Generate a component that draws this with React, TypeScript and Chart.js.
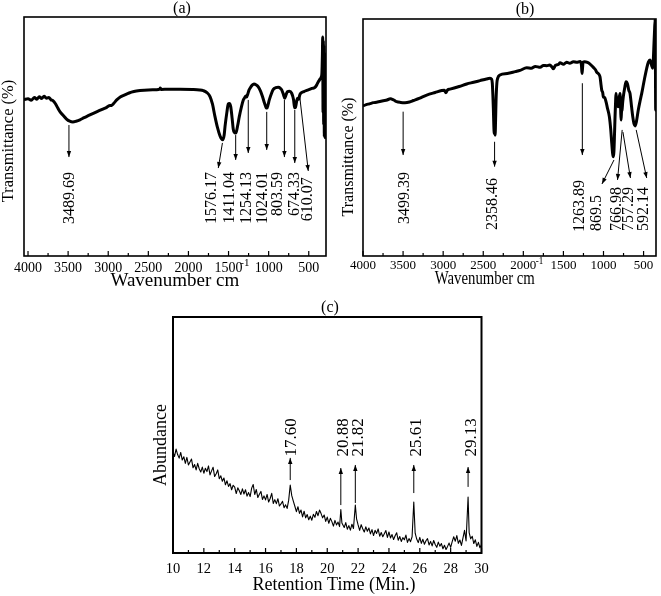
import React, { useEffect, useRef } from "react";
import { Chart, registerables } from "chart.js";

Chart.register(...registerables);

const FONT = '"Liberation Serif", "Times New Roman", serif';

// ---------------- Panel (a): FTIR spectrum ----------------
const spectrumA: [number, number][] = [
  [4050, 65.4], [4000, 65.8], [3960, 65.2], [3920, 66.3], [3890, 65.6], [3860, 66.6], [3830, 65.9],
  [3800, 66.8], [3770, 66.0], [3740, 66.3], [3715, 65.4], [3690, 65.0], [3660, 63.8], [3630, 62.0],
  [3600, 60.3], [3560, 58.8], [3520, 57.3], [3480, 56.4], [3440, 56.1], [3400, 56.4], [3352, 57.0],
  [3300, 57.9], [3250, 58.7], [3186, 59.7], [3120, 60.7], [3060, 61.6], [3019, 62.2], [2990, 62.9],
  [2960, 63.0], [2930, 63.9], [2894, 65.3], [2850, 66.5], [2800, 67.3], [2740, 68.2], [2680, 68.8],
  [2604, 69.2], [2500, 69.5], [2400, 69.6], [2360, 69.8], [2350, 70.3], [2340, 69.7], [2250, 69.8],
  [2105, 69.8], [1950, 69.7], [1860, 69.5], [1815, 69.2], [1770, 68.4], [1731, 66.7], [1700, 63.5],
  [1669, 58.3], [1640, 54.0], [1606, 50.2], [1585, 48.9], [1573, 48.6], [1555, 50.5], [1544, 54.1],
  [1520, 60.3], [1503, 63.6], [1490, 63.8], [1473, 62.5], [1455, 57.5], [1441, 53.0], [1420, 51.5],
  [1407, 51.6], [1385, 54.8], [1366, 58.3], [1340, 62.3], [1316, 65.3], [1300, 66.2], [1285, 66.9],
  [1274, 66.5], [1262, 67.6], [1245, 69.4], [1232, 70.2], [1205, 71.5], [1183, 72.0], [1155, 71.6],
  [1129, 70.8], [1100, 68.9], [1074, 66.4], [1050, 63.8], [1030, 62.0], [1020, 61.9], [1008, 63.2],
  [992, 65.3], [965, 68.0], [942, 69.7], [910, 70.4], [880, 70.6], [855, 70.2], [837, 69.5],
  [815, 67.5], [800, 66.0], [790, 66.8], [767, 68.7], [740, 68.9], [713, 68.1], [690, 65.5],
  [676, 62.0], [665, 62.3], [650, 64.9], [640, 66.0], [625, 65.6], [612, 67.4], [600, 68.1],
  [560, 68.8], [506, 69.5], [460, 70.1], [422, 70.6], [400, 71.6], [381, 72.9], [360, 74.0],
  [345, 74.8], [336, 76.5], [330, 84.0], [326, 91.6], [322, 60.0], [318, 90.0], [314, 55.0],
  [310, 88.0], [306, 50.0], [302, 85.0], [298, 49.5], [294, 72.0], [290, 50.0], [285, 52.0],
];
const ticksA = [4000, 3500, 3000, 2500, 2000, 1500, 1000, 500];
const tickLabelsA = ["4000", "3500", "3000", "2500", "2000", "1500", "1000", "500"];
const peakLabelsA = ["3489.69", "1576.17", "1411.04", "1254.13", "1024.01", "803.59", "674.33", "610.07"];
const peaksA = [3489.69, 1576.17, 1411.04, 1254.13, 1024.01, 803.59, 674.33, 610.07];

// ---------------- Panel (b): FTIR spectrum ----------------
const spectrumB: [number, number][] = [
  [4000, 63.3], [3960, 63.9], [3920, 64.2], [3872, 64.7], [3830, 64.9], [3790, 65.2], [3747, 65.5],
  [3700, 65.8], [3660, 66.4], [3642, 66.2], [3610, 65.7], [3580, 65.1], [3530, 64.8], [3476, 64.7],
  [3420, 65.0], [3372, 65.6], [3300, 66.5], [3205, 67.9], [3100, 69.0], [3018, 69.8], [2985, 69.9],
  [2965, 68.9], [2945, 70.1], [2915, 70.4], [2800, 71.5], [2706, 72.6], [2620, 73.3], [2540, 74.0],
  [2460, 74.7], [2416, 75.0], [2395, 74.6], [2387, 72.9], [2380, 68.0], [2374, 62.4], [2368, 55.0],
  [2362, 51.6], [2358, 58.0], [2352, 51.0], [2346, 57.5], [2340, 66.0], [2330, 73.0], [2320, 75.0],
  [2291, 76.4], [2200, 77.0], [2100, 77.8], [2041, 78.3], [1958, 79.4], [1900, 79.2], [1850, 80.0],
  [1790, 79.6], [1750, 80.4], [1708, 80.3], [1670, 80.6], [1640, 79.6], [1626, 79.0], [1600, 80.4],
  [1560, 80.9], [1542, 81.5], [1500, 80.9], [1460, 81.8], [1420, 81.3], [1376, 82.0], [1330, 81.7],
  [1293, 82.1], [1275, 80.5], [1268, 77.0], [1262, 79.0], [1255, 81.8], [1235, 82.0], [1200, 81.7],
  [1168, 81.0], [1130, 79.7], [1100, 78.6], [1085, 77.6], [1060, 76.8], [1043, 75.5], [1030, 72.0],
  [1022, 70.0], [1010, 69.0], [1002, 67.2], [985, 66.8], [969, 65.1], [950, 62.3], [927, 58.8],
  [910, 53.5], [897, 47.6], [885, 43.0], [877, 41.9], [870, 44.0], [862, 52.0], [856, 58.8],
  [848, 66.0], [844, 68.6], [835, 65.5], [825, 64.0], [815, 63.0], [805, 66.5], [794, 68.6],
  [786, 62.0], [781, 57.4], [775, 61.0], [769, 61.6], [760, 65.0], [753, 67.2], [735, 71.0],
  [719, 73.5], [700, 72.5], [685, 70.0], [669, 68.6], [650, 63.0], [635, 58.8], [620, 55.8],
  [607, 54.9], [590, 56.6], [566, 61.6], [545, 65.2], [523, 68.6], [490, 74.5], [461, 79.2],
  [440, 81.8], [420, 82.7], [400, 80.5], [386, 79.2], [378, 83.0], [370, 89.7], [362, 96.0],
  [356, 99.8], [352, 80.0], [349, 61.6], [347, 95.0], [345, 62.0],
];
const ticksB = [4000, 3500, 3000, 2500, 2000, 1500, 1000, 500];
const tickLabelsB = ["4000", "3500", "3000", "2500", "2000", "1500", "1000", "500"];
const peakLabelsB = ["3499.39", "2358.46", "1263.89", "869.5", "766.98", "757.29", "592.14"];
const peaksB = [3499.39, 2358.46, 1263.89, 869.5, 766.98, 757.29, 592.14];

// ---------------- Panel (c): GC chromatogram ----------------
const chromatogramC: [number, number][] = [
  [10.0, 42.8], [10.1, 40.9], [10.2, 44.0], [10.3, 41.7], [10.4, 40.2], [10.5, 42.6], [10.6, 39.4], [10.7, 40.8], [10.8, 38.0], [10.9, 40.5],
  [11.0, 37.3], [11.1, 38.6], [11.2, 39.8], [11.3, 36.1], [11.4, 37.5], [11.5, 35.2], [11.6, 38.0], [11.7, 35.7], [11.8, 34.3], [11.9, 36.4],
  [12.0, 33.8], [12.1, 35.9], [12.2, 34.5], [12.3, 36.9], [12.4, 33.1], [12.5, 34.8], [12.6, 36.3], [12.7, 32.4], [12.8, 33.6], [12.9, 35.2],
  [13.0, 31.5], [13.1, 32.7], [13.2, 30.4], [13.3, 31.8], [13.4, 28.9], [13.5, 30.6], [13.6, 28.2], [13.7, 29.4], [13.8, 26.8], [13.9, 28.7],
  [14.0, 27.9], [14.1, 25.2], [14.2, 27.6], [14.3, 26.4], [14.4, 24.8], [14.5, 27.2], [14.6, 25.0], [14.7, 26.8], [14.8, 24.1], [14.9, 25.6],
  [15.0, 23.9], [15.1, 27.5], [15.2, 29.0], [15.3, 24.8], [15.4, 26.9], [15.5, 23.5], [15.6, 24.9], [15.7, 26.1], [15.8, 22.7], [15.9, 24.2],
  [16.0, 22.5], [16.1, 24.8], [16.2, 21.6], [16.3, 23.1], [16.4, 25.3], [16.5, 21.0], [16.6, 22.6], [16.7, 20.9], [16.8, 23.0], [16.9, 19.9],
  [17.0, 20.8], [17.1, 21.9], [17.2, 19.2], [17.3, 20.4], [17.4, 18.9], [17.5, 22.4], [17.6, 28.8], [17.7, 24.3], [17.8, 22.0], [17.9, 19.8],
  [18.0, 17.5], [18.1, 19.6], [18.2, 16.8], [18.3, 18.2], [18.4, 15.3], [18.5, 17.7], [18.6, 14.9], [18.7, 16.3], [18.8, 14.1], [18.9, 15.6],
  [19.0, 13.9], [19.1, 16.4], [19.2, 15.1], [19.3, 17.6], [19.4, 15.8], [19.5, 18.2], [19.6, 16.7], [19.7, 14.9], [19.8, 16.1], [19.9, 13.4],
  [20.0, 15.2], [20.1, 12.6], [20.2, 14.7], [20.3, 13.3], [20.4, 11.4], [20.5, 13.8], [20.6, 11.9], [20.7, 13.1], [20.8, 11.2], [20.88, 18.4],
  [20.95, 12.7], [21.1, 10.8], [21.2, 12.9], [21.3, 10.1], [21.4, 11.6], [21.5, 9.7], [21.6, 12.2], [21.7, 10.4], [21.82, 20.3], [21.9, 14.5],
  [22.0, 11.9], [22.1, 9.6], [22.2, 12.0], [22.3, 10.3], [22.4, 8.9], [22.5, 11.1], [22.6, 9.2], [22.7, 10.6], [22.8, 8.1], [22.9, 9.9],
  [23.0, 7.4], [23.1, 9.6], [23.2, 8.3], [23.3, 10.2], [23.4, 7.1], [23.5, 8.7], [23.6, 6.9], [23.7, 8.2], [23.8, 9.5], [23.9, 6.6],
  [24.0, 8.9], [24.1, 6.4], [24.2, 7.8], [24.3, 5.7], [24.4, 7.3], [24.5, 8.6], [24.6, 5.4], [24.7, 7.0], [24.8, 4.9], [24.9, 6.5],
  [25.0, 5.6], [25.1, 7.6], [25.2, 4.5], [25.3, 6.1], [25.4, 4.8], [25.5, 6.9], [25.61, 21.6], [25.7, 8.4], [25.8, 5.9], [25.9, 4.4],
  [26.0, 6.6], [26.1, 4.1], [26.2, 5.8], [26.3, 3.7], [26.4, 5.2], [26.5, 6.1], [26.6, 3.4], [26.7, 4.9], [26.8, 3.0], [26.9, 5.3],
  [27.0, 3.6], [27.1, 2.4], [27.2, 4.6], [27.3, 2.9], [27.4, 4.0], [27.5, 1.8], [27.6, 3.3], [27.7, 1.5], [27.8, 2.8], [27.9, 4.2],
  [28.0, 2.4], [28.1, 4.8], [28.2, 6.9], [28.3, 5.0], [28.4, 7.4], [28.5, 4.1], [28.6, 5.5], [28.7, 3.2], [28.8, 6.4], [28.9, 9.6],
  [29.0, 5.1], [29.13, 23.7], [29.2, 8.6], [29.3, 6.0], [29.4, 7.1], [29.5, 4.0], [29.6, 5.6], [29.7, 2.8], [29.8, 4.5], [29.9, 2.2],
  [30.0, 3.6],
];
const ticksC = [10, 12, 14, 16, 18, 20, 22, 24, 26, 28, 30];
const tickLabelsC = ["10", "12", "14", "16", "18", "20", "22", "24", "26", "28", "30"];
const peakLabelsC = ["17.60", "20.88", "21.82", "25.61", "29.13"];
const peaksC = [17.6, 20.88, 21.82, 25.61, 29.13];

// ---------------- layout (callout geometry in data units) ----------------
type Geom = { y0: number; x1: number; y1: number; lx: number; ly: number };

const calloutGeomA: Geom[] = [
  { y0: 54.8, x1: 3489.69, y1: 41.4, lx: 3485, ly: 35.1 },
  { y0: 47.3, x1: 1628, y1: 36.8, lx: 1710, ly: 35.1 },
  { y0: 50.6, x1: 1411.04, y1: 40.2, lx: 1482, ly: 35.1 },
  { y0: 65.3, x1: 1254.13, y1: 43.1, lx: 1274, ly: 35.1 },
  { y0: 60.3, x1: 1024.01, y1: 44.4, lx: 1067, ly: 35.1 },
  { y0: 65.3, x1: 803.59, y1: 41.4, lx: 880, ly: 35.1 },
  { y0: 61.1, x1: 674.33, y1: 38.9, lx: 671, ly: 35.1 },
  { y0: 66.0, x1: 506, y1: 35.6, lx: 506, ly: 33.0 },
];
const calloutGeomB: Geom[] = [
  { y0: 60.9, x1: 3499.39, y1: 42.6, lx: 3476, ly: 35.4 },
  { y0: 48.2, x1: 2358.46, y1: 37.7, lx: 2376, ly: 32.9 },
  { y0: 72.9, x1: 1263.89, y1: 42.6, lx: 1293, ly: 32.1 },
  { y0: 40.5, x1: 1019, y1: 30.4, lx: 1085, ly: 25.7 },
  { y0: 53.2, x1: 825, y1: 32.1, lx: 828, ly: 29.1 },
  { y0: 52.3, x1: 664, y1: 32.9, lx: 682, ly: 29.1 },
  { y0: 53.2, x1: 461, y1: 32.9, lx: 503, ly: 29.1 },
];
const calloutGeomC: Geom[] = [
  { y0: 30.9, x1: 17.6, y1: 40.3, lx: 17.71, ly: 40.9 },
  { y0: 20.3, x1: 20.88, y1: 36.0, lx: 21.06, ly: 40.9 },
  { y0: 21.2, x1: 21.82, y1: 37.3, lx: 22.03, ly: 40.9 },
  { y0: 25.4, x1: 25.61, y1: 37.3, lx: 25.81, ly: 40.9 },
  { y0: 28.0, x1: 29.13, y1: 36.4, lx: 29.38, ly: 40.9 },
];

interface PanelSpec {
  left: number; top: number; width: number; height: number;
  area: { l: number; r: number; t: number; b: number }; // page coords
  xMin: number; xMax: number; reverse: boolean;
  ticks: number[]; tickLabels: string[];
  tickSize: number; tickPad: number;
  data: [number, number][];
  lineWidth: number; smooth: boolean;
  borderW: number;
  title: string; titlePos: [number, number];
  xTitle: string; xSup: string; xTitlePos: [number, number]; xTitleSize: number; xTitleScaleX: number;
  yTitle: string; yTitlePos: [number, number]; yTitleSize: number;
  labels: string[]; peaks: number[]; geom: Geom[];
  labelSize: number; labelAlign: CanvasTextAlign;
}

function arrowHead(ctx: CanvasRenderingContext2D, x0: number, y0: number, x1: number, y1: number) {
  const ang = Math.atan2(y1 - y0, x1 - x0);
  const len = 6, half = 2.2;
  ctx.beginPath();
  ctx.moveTo(x1, y1);
  ctx.lineTo(x1 - len * Math.cos(ang) + half * Math.sin(ang), y1 - len * Math.sin(ang) - half * Math.cos(ang));
  ctx.lineTo(x1 - len * Math.cos(ang) - half * Math.sin(ang), y1 - len * Math.sin(ang) + half * Math.cos(ang));
  ctx.closePath();
  ctx.fill();
}

function decorPlugin(spec: PanelSpec) {
  return {
    id: "decor",
    afterDraw(chart: any) {
      const ctx: CanvasRenderingContext2D = chart.ctx;
      const { left, right, top, bottom } = chart.chartArea;
      const xs = chart.scales.x, ys = chart.scales.y;
      const ox = spec.left, oy = spec.top;
      ctx.save();
      ctx.strokeStyle = "#000";
      ctx.fillStyle = "#000";
      // frame
      ctx.lineWidth = spec.borderW;
      ctx.strokeRect(left, top, right - left, bottom - top);
      // inward ticks (major + minor midpoints)
      ctx.lineWidth = 1.2;
      const t = spec.ticks;
      const minors: number[] = [];
      for (let i = 0; i < t.length - 1; i++) minors.push((t[i] + t[i + 1]) / 2);
      ctx.beginPath();
      t.forEach((v) => {
        const p = xs.getPixelForValue(v);
        ctx.moveTo(p, bottom); ctx.lineTo(p, bottom - 5);
      });
      minors.forEach((v) => {
        const p = xs.getPixelForValue(v);
        ctx.moveTo(p, bottom); ctx.lineTo(p, bottom - 3);
      });
      ctx.stroke();
      // callouts
      ctx.lineWidth = 1;
      spec.geom.forEach((g, i) => {
        const x0 = xs.getPixelForValue(spec.peaks[i]);
        const y0 = ys.getPixelForValue(g.y0);
        const x1 = xs.getPixelForValue(g.x1);
        const y1 = ys.getPixelForValue(g.y1);
        ctx.beginPath();
        ctx.moveTo(x0, y0);
        ctx.lineTo(x1, y1);
        ctx.stroke();
        arrowHead(ctx, x0, y0, x1, y1);
        const lx = xs.getPixelForValue(g.lx);
        const ly = ys.getPixelForValue(g.ly);
        ctx.save();
        ctx.translate(lx, ly);
        ctx.rotate(-Math.PI / 2);
        ctx.font = `${spec.labelSize}px ${FONT}`;
        ctx.textAlign = spec.labelAlign;
        ctx.textBaseline = "middle";
        ctx.fillText(spec.labels[i], 0, 0);
        ctx.restore();
      });
      // panel title
      ctx.font = `16px ${FONT}`;
      ctx.textAlign = "center";
      ctx.textBaseline = "middle";
      ctx.fillText(spec.title, spec.titlePos[0] - ox, spec.titlePos[1] - oy);
      // x title with superscript (optionally compressed horizontally)
      ctx.save();
      ctx.translate(spec.xTitlePos[0] - ox, spec.xTitlePos[1] - oy);
      ctx.scale(spec.xTitleScaleX, 1);
      ctx.font = `${spec.xTitleSize}px ${FONT}`;
      const w1 = ctx.measureText(spec.xTitle).width;
      ctx.font = `11px ${FONT}`;
      const w2 = spec.xSup ? ctx.measureText(spec.xSup).width + 1 : 0;
      const sx = -(w1 + w2) / 2;
      ctx.textAlign = "left";
      ctx.textBaseline = "alphabetic";
      ctx.font = `${spec.xTitleSize}px ${FONT}`;
      ctx.fillText(spec.xTitle, sx, 0);
      if (spec.xSup) {
        ctx.font = `11px ${FONT}`;
        ctx.fillText(spec.xSup, sx + w1 + 1, -20);
      }
      ctx.restore();
      // y title
      ctx.save();
      ctx.translate(spec.yTitlePos[0] - ox, spec.yTitlePos[1] - oy);
      ctx.rotate(-Math.PI / 2);
      ctx.font = `${spec.yTitleSize}px ${FONT}`;
      ctx.textAlign = "center";
      ctx.textBaseline = "middle";
      ctx.fillText(spec.yTitle, 0, 0);
      ctx.restore();
      ctx.restore();
    },
  };
}

function Panel({ spec }: { spec: PanelSpec }) {
  const ref = useRef<HTMLCanvasElement>(null);
  useEffect(() => {
    const canvas = ref.current;
    if (!canvas) return;
    const a = spec.area;
    const chart = new Chart(canvas, {
      type: "line",
      data: {
        datasets: [
          {
            data: spec.data.map(([x, y]) => ({ x, y })),
            borderColor: "#000",
            borderWidth: spec.lineWidth,
            pointRadius: 0,
            fill: false,
            cubicInterpolationMode: spec.smooth ? "monotone" : "default",
            tension: 0,
            borderJoinStyle: "round",
          } as any,
        ],
      },
      options: {
        responsive: false,
        animation: false,
        devicePixelRatio: 1,
        layout: {
          autoPadding: false,
          padding: { left: a.l - spec.left, top: a.t - spec.top, right: spec.left + spec.width - a.r, bottom: 0 },
        } as any,
        plugins: { legend: { display: false }, tooltip: { enabled: false }, title: { display: false } },
        scales: {
          x: {
            type: "linear",
            min: spec.xMin,
            max: spec.xMax,
            reverse: spec.reverse,
            grid: { display: false, drawTicks: false },
            border: { display: false },
            ticks: {
              color: "#000",
              font: { family: FONT, size: spec.tickSize },
              padding: spec.tickPad,
              maxRotation: 0,
              autoSkip: false,
              callback: (v: any) => {
                const idx = spec.ticks.indexOf(Number(v));
                return idx >= 0 ? spec.tickLabels[idx] : "";
              },
            },
            afterBuildTicks: (s: any) => {
              s.ticks = spec.ticks.map((v) => ({ value: v }));
            },
            afterFit: (s: any) => {
              s.height = spec.top + spec.height - a.b;
            },
          },
          y: { display: false, min: 0, max: 100 },
        },
      } as any,
      plugins: [decorPlugin(spec)],
    });
    return () => chart.destroy();
  }, [spec]);
  return (
    <canvas
      ref={ref}
      width={spec.width}
      height={spec.height}
      style={{ position: "absolute", left: spec.left, top: spec.top, width: spec.width, height: spec.height }}
    />
  );
}

const specA: PanelSpec = {
  left: 0, top: 0, width: 331, height: 296,
  area: { l: 24, r: 326, t: 17, b: 256 },
  xMin: 285, xMax: 4050, reverse: true,
  ticks: ticksA, tickLabels: tickLabelsA, tickSize: 14, tickPad: 4,
  data: spectrumA, lineWidth: 3, smooth: true, borderW: 1.6,
  title: "(a)", titlePos: [182, 9],
  xTitle: "Wavenumber cm", xSup: "-1", xTitlePos: [180, 286], xTitleSize: 19, xTitleScaleX: 1,
  yTitle: "Transmittance (%)", yTitlePos: [9, 141], yTitleSize: 16.5,
  labels: peakLabelsA, peaks: peaksA, geom: calloutGeomA, labelSize: 16, labelAlign: "right",
};

const specB: PanelSpec = {
  left: 331, top: 0, width: 330, height: 296,
  area: { l: 363, r: 656, t: 19, b: 256 },
  xMin: 345, xMax: 4000, reverse: true,
  ticks: ticksB, tickLabels: tickLabelsB, tickSize: 13, tickPad: 1.5,
  data: spectrumB, lineWidth: 3, smooth: true, borderW: 1.6,
  title: "(b)", titlePos: [525, 10],
  xTitle: "Wavenumber cm", xSup: "-1", xTitlePos: [489, 284], xTitleSize: 18, xTitleScaleX: 0.82,
  yTitle: "Transmittance (%)", yTitlePos: [349, 157], yTitleSize: 16,
  labels: peakLabelsB, peaks: peaksB, geom: calloutGeomB, labelSize: 16, labelAlign: "right",
};

const specC: PanelSpec = {
  left: 130, top: 298, width: 370, height: 298,
  area: { l: 173, r: 481.5, t: 317, b: 553 },
  xMin: 10, xMax: 30, reverse: false,
  ticks: ticksC, tickLabels: tickLabelsC, tickSize: 14.5, tickPad: 7,
  data: chromatogramC, lineWidth: 1.1, smooth: false, borderW: 2,
  title: "(c)", titlePos: [330, 308],
  xTitle: "Retention Time (Min.)", xSup: "", xTitlePos: [334, 590], xTitleSize: 18, xTitleScaleX: 1,
  yTitle: "Abundance", yTitlePos: [161, 445], yTitleSize: 18,
  labels: peakLabelsC, peaks: peaksC, geom: calloutGeomC, labelSize: 17, labelAlign: "left",
};

export default function App() {
  return (
    <div style={{ position: "absolute", left: 0, top: 0, width: 661, height: 596, background: "#fff" }}>
      <Panel spec={specA} />
      <Panel spec={specB} />
      <Panel spec={specC} />
    </div>
  );
}
